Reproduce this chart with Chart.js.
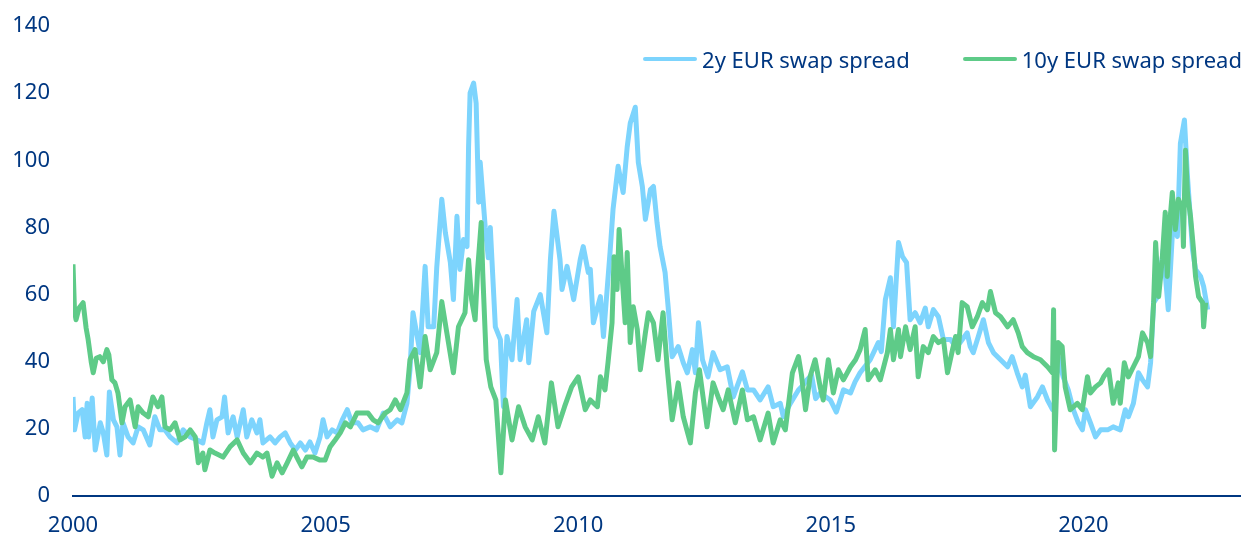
<!DOCTYPE html>
<html>
<head>
<meta charset="utf-8">
<script src="https://cdn.jsdelivr.net/npm/chart.js@4/dist/chart.umd.min.js"></script>
<style>
  body { margin: 0; background: #fff; }
  #wrap { position: relative; width: 1244px; height: 537px; }
  #legend { position: absolute; right: 2px; top: 44px; display: flex; font-family: "Noto Sans", sans-serif; font-size: 22px; color: #003781; }
  .item { display: flex; align-items: center; margin-left: 53px; }
  .swatch { width: 54px; height: 4px; border-radius: 2px; margin-right: 5px; }
</style>
</head>
<body>
<div id="wrap">
  <canvas id="chart" width="1244" height="537"></canvas>
  <div id="legend"></div>
</div>
<script>
// series labels and colours
var seriesNames = ['2y EUR swap spread', '10y EUR swap spread'];
var seriesColors = ['#7dd4fd', '#5ecb88'];
var yearTicks = [2000, 2005, 2010, 2015, 2020];

// 2y spread (bp), dates as decimal years
var years2y = [2000.00,2000.03,2000.10,2000.18,2000.24,2000.28,2000.31,2000.38,2000.44,2000.54,2000.60,2000.67,2000.72,2000.80,2000.87,2000.93,2000.99,
  2001.09,2001.19,2001.29,2001.39,2001.52,2001.62,2001.72,2001.82,2001.92,2002.06,2002.18,2002.32,2002.46,2002.57,2002.65,2002.71,2002.77,2002.85,2002.95,
  2003.00,2003.07,2003.17,2003.25,2003.37,2003.44,2003.54,2003.64,2003.70,2003.76,2003.90,2004.00,2004.10,2004.20,2004.30,2004.40,2004.50,2004.60,2004.69,
  2004.79,2004.89,2004.95,2005.03,2005.13,2005.23,2005.33,2005.43,2005.52,2005.64,2005.74,2005.88,2006.01,2006.14,2006.28,2006.42,2006.51,2006.61,2006.67,
  2006.73,2006.87,2006.97,2007.03,2007.14,2007.20,2007.30,2007.37,2007.47,2007.53,2007.60,2007.66,2007.73,2007.80,2007.83,2007.86,2007.93,2007.98,2008.03,
  2008.06,2008.16,2008.22,2008.26,2008.36,2008.46,2008.52,2008.59,2008.69,2008.79,2008.85,2008.98,2009.02,2009.12,2009.25,2009.38,2009.45,2009.52,2009.64,
  2009.68,2009.78,2009.91,2010.04,2010.10,2010.20,2010.24,2010.30,2010.44,2010.50,2010.63,2010.69,2010.79,2010.89,2010.97,2011.03,2011.13,2011.19,2011.27,
  2011.33,2011.43,2011.49,2011.56,2011.62,2011.72,2011.78,2011.86,2011.98,2012.08,2012.16,2012.26,2012.32,2012.38,2012.46,2012.57,2012.67,2012.81,2012.95,
  2013.07,2013.25,2013.35,2013.47,2013.60,2013.76,2013.86,2014.00,2014.06,2014.20,2014.36,2014.45,2014.53,2014.62,2014.70,2014.79,2014.99,2015.11,2015.25,
  2015.39,2015.48,2015.58,2015.78,2015.94,2016.00,2016.08,2016.18,2016.24,2016.34,2016.42,2016.50,2016.57,2016.67,2016.77,2016.87,2016.93,2017.03,2017.13,
  2017.23,2017.37,2017.47,2017.56,2017.70,2017.76,2017.82,2017.92,2018.02,2018.12,2018.22,2018.36,2018.50,2018.59,2018.69,2018.79,2018.85,2018.95,2019.09,
  2019.19,2019.29,2019.39,2019.43,2019.50,2019.60,2019.70,2019.80,2019.90,2019.98,2020.04,2020.14,2020.24,2020.34,2020.48,2020.59,2020.73,2020.83,2020.89,
  2020.99,2021.09,2021.17,2021.27,2021.33,2021.39,2021.47,2021.58,2021.68,2021.78,2021.86,2021.92,2022.00,2022.06,2022.16,2022.22,2022.32,2022.38,2022.46];
var spread2y = [29.5,19.7,24.7,25.7,17.6,27.6,17.6,29.2,13.7,21.8,18.8,12.2,31,22.7,20.6,12.2,21.8,
  17.6,15.8,20.6,19.7,15.2,23.6,19.7,19.7,17.6,15.8,19.7,17.6,16.7,15.8,21.8,25.7,17.6,22.7,23.6,
  29.5,18.8,23.6,17.6,25.7,17.6,22.7,18.8,22.7,15.8,17.6,15.8,17.6,18.8,15.8,13.7,15.8,13.7,16.1,
  12.8,17.6,22.7,17.6,19.7,18.8,22.7,25.7,21.8,21.8,19.7,20.6,19.7,24.7,20.6,22.7,21.8,27.6,37.6,
  54.6,42.7,68.4,50.4,50.4,68,88.4,78.5,69.5,58.5,83.3,67.5,76.4,74.3,104,120,123,117,87.5,
  99.4,80,71,80,50.4,46.6,26.6,47.5,40.6,58.5,40.6,52.5,39.7,55,60,48.6,70.4,84.8,70.4,
  61.5,68.4,58.5,70.4,74.3,66.6,67.5,51.6,59.4,47.5,72.5,85.4,98.2,90.4,104,111,115.8,99.4,92.2,
  82.4,91.3,92.2,81.5,74.3,66.6,56.4,41.5,44.5,39.7,36.7,43.6,36.7,51.6,40.6,35.5,42.7,37.6,38.5,
  29.5,37,31.6,31.6,28.6,32.5,26.6,27.6,23.6,27.6,31.6,33,34.6,36,29,30.7,28.6,25,31.6,
  30.7,34,36.7,40.6,45.7,43,58.5,65,50.4,75.5,71.3,69.5,52.5,54.6,51.6,56,50.4,55.5,53.4,
  46.6,46.6,44.5,45.7,48.6,44.5,42.7,47.5,52.5,45.7,42.7,40.6,38.5,41.5,36.7,32.5,36,26.6,29.5,
  32.5,28.6,25.7,27.6,41.5,35.5,31.6,25.7,21.8,19.7,25.7,21.8,17.6,19.7,19.7,20.6,19.7,25.7,23.6,
  27.6,36.7,34.6,32.5,39.7,57.6,59.4,73.4,55.5,83.3,77.3,105,112,95.2,73.4,67.5,65.4,62.4,55.5];

// 10y spread (bp), dates as decimal years
var years10y = [2000.00,2000.03,2000.06,2000.12,2000.20,2000.26,2000.30,2000.36,2000.40,2000.46,2000.53,2000.60,2000.67,2000.71,2000.77,2000.83,2000.89,2000.97,
  2001.03,2001.13,2001.23,2001.29,2001.39,2001.49,2001.58,2001.68,2001.76,2001.82,2001.92,2002.02,2002.12,2002.22,2002.32,2002.42,2002.48,2002.57,2002.61,
  2002.71,2002.81,2002.97,2003.11,2003.25,2003.37,2003.51,2003.64,2003.76,2003.84,2003.94,2004.04,2004.14,2004.24,2004.36,2004.46,2004.53,2004.63,2004.75,
  2004.89,2004.99,2005.09,2005.19,2005.29,2005.39,2005.49,2005.62,2005.74,2005.84,2005.94,2006.04,2006.18,2006.28,2006.38,2006.48,2006.61,2006.67,2006.77,
  2006.87,2006.97,2007.07,2007.20,2007.30,2007.40,2007.53,2007.63,2007.76,2007.83,2007.89,2007.96,2008.01,2008.08,2008.11,2008.18,2008.27,2008.37,2008.47,
  2008.56,2008.69,2008.82,2008.95,2009.09,2009.21,2009.34,2009.47,2009.60,2009.73,2009.87,2010.00,2010.14,2010.24,2010.38,2010.44,2010.53,2010.59,2010.67,
  2010.71,2010.77,2010.81,2010.87,2010.93,2010.97,2011.03,2011.09,2011.17,2011.23,2011.33,2011.39,2011.49,2011.58,2011.68,2011.76,2011.86,2011.98,2012.08,
  2012.22,2012.32,2012.40,2012.55,2012.67,2012.77,2012.87,2012.97,2013.11,2013.25,2013.35,2013.47,2013.60,2013.76,2013.86,2014.00,2014.10,2014.24,2014.36,
  2014.42,2014.50,2014.59,2014.69,2014.79,2014.85,2014.95,2015.05,2015.15,2015.25,2015.39,2015.49,2015.58,2015.68,2015.74,2015.88,2015.98,2016.12,2016.18,
  2016.24,2016.34,2016.38,2016.48,2016.57,2016.67,2016.73,2016.83,2016.93,2017.03,2017.13,2017.23,2017.31,2017.41,2017.47,2017.52,2017.60,2017.70,2017.80,
  2017.90,2018.00,2018.10,2018.16,2018.26,2018.36,2018.50,2018.61,2018.71,2018.79,2018.89,2019.01,2019.15,2019.29,2019.39,2019.41,2019.43,2019.50,2019.58,
  2019.64,2019.74,2019.88,2019.98,2020.08,2020.14,2020.24,2020.34,2020.40,2020.50,2020.59,2020.69,2020.73,2020.81,2020.89,2020.99,2021.09,2021.17,2021.27,
  2021.33,2021.39,2021.43,2021.49,2021.56,2021.62,2021.66,2021.72,2021.76,2021.82,2021.88,2021.96,2021.98,2022.02,2022.06,2022.12,2022.18,2022.22,2022.28,
  2022.36,2022.38,2022.42];
var spread10y = [69,55,52.5,56,57.6,50,46.6,40,36.7,41,41.5,40,43.6,42,34.6,33.7,30.7,21.8,
  26.6,28.6,20.6,26.6,24.7,23.6,29.5,26.6,29.5,20.6,19.7,21.8,16.7,17.6,19.7,17.6,9.9,12.8,7.8,
  13.7,12.8,11.6,14.7,16.7,12.8,9.9,12.8,11.6,12.8,5.9,9.9,6.9,9.9,13.7,10.7,8.7,11.6,11.6,
  10.7,10.7,14.7,16.7,18.8,21.8,20.6,24.7,24.7,24.7,22.7,21.8,24.7,25.7,28.6,25.7,30.7,40.6,43.6,
  32.5,47.5,37.6,42.7,57.9,48.6,36.7,50.4,54.6,70.4,58.5,52.5,67.5,81.5,66.6,40.6,32.5,28.6,6.9,
  28.6,16.7,26.6,20.6,16.7,23.6,15.8,33.7,20.6,26.6,32.5,35.5,25.7,28.6,26.6,35.5,31.6,39.7,51.6,
  71.3,61.5,79.4,65.4,51.6,72.5,45.7,56.4,49.6,37.6,48.6,54.6,51.6,40.6,54.6,38.5,22.7,33.7,23.6,
  15.8,30.7,37.6,20.6,33.7,29.5,25.7,31.6,21.8,31.6,22.7,23.6,16.7,24.7,15.8,22.7,19.7,36.7,41.5,
  36,25.7,35.5,40.6,32.5,28.6,40.6,30.7,37.6,34.6,38.5,40.6,43.6,49.6,34.6,37.6,34.6,42.7,49.6,
  40.6,49.6,41.5,50.4,43.6,50.4,35.5,44.5,42.7,47.5,45.7,46.6,36.7,43.6,47.5,42.7,57.6,56.4,50.4,
  53.4,57.6,55.5,60.9,54.6,53.4,50.4,52.5,48.6,44.5,42.7,41.5,40.6,38.5,36.7,55.5,13.7,45.7,44.5,
  32.5,25.7,27.6,25.7,35.5,30.7,32.5,33.7,35.5,37.6,27.6,33.7,27.6,39.7,35.5,38.5,41.5,48.6,45.7,
  41.5,57.6,75.5,59.4,70.4,84.5,65.4,83.3,90.4,79.4,88.4,85.4,74.3,103,90.4,83.3,73.4,65.4,59.4,
  57.6,50.4,57.6];

function toPoints(xs, ys) {
  return xs.map(function (x, i) { return { x: x, y: ys[i] }; });
}

var navy = '#003781';
var tickFont = { family: 'Noto Sans', size: 22, lineHeight: 1 };

var ctx = document.getElementById('chart').getContext('2d');
var chart = new Chart(ctx, {
  type: 'line',
  data: {
    datasets: [{
      label: seriesNames[0],
      data: toPoints(years2y, spread2y),
      borderColor: seriesColors[0],
      borderWidth: 5,
      borderJoinStyle: 'round',
      pointRadius: 0,
      tension: 0,
      order: 2
    }, {
      label: seriesNames[1],
      data: toPoints(years10y, spread10y),
      borderColor: seriesColors[1],
      borderWidth: 5,
      borderJoinStyle: 'round',
      pointRadius: 0,
      tension: 0,
      order: 1
    }]
  },
  options: {
    responsive: false,
    animation: false,
    layout: { padding: { top: 26, left: 12, right: 4, bottom: 0 } },
    plugins: { legend: { display: false }, tooltip: { enabled: false } },
    scales: {
      x: {
        type: 'linear',
        min: 2000,
        max: 2023.1,
        afterBuildTicks: function (scale) {
          scale.ticks = yearTicks.map(function (v) { return { value: v }; });
        },
        afterFit: function (scale) { scale.height = 41; },
        grid: { display: false, drawTicks: false },
        border: { display: true, color: navy, width: 2 },
        ticks: { color: navy, font: tickFont, padding: 19, maxRotation: 0,
          callback: function (v) { return String(v); } }
      },
      y: {
        min: 0,
        max: 140,
        afterFit: function (scale) {
          scale.width = 61;
          scale.paddingTop = 0;
          scale.paddingBottom = 0;
        },
        grid: { display: false, drawTicks: false },
        border: { display: false },
        ticks: { stepSize: 20, color: navy, font: tickFont, padding: 23 }
      }
    }
  }
});

// legend as html text
var legend = document.getElementById('legend');
seriesNames.forEach(function (name, i) {
  var item = document.createElement('div');
  item.className = 'item';
  var sw = document.createElement('span');
  sw.className = 'swatch';
  sw.style.background = seriesColors[i];
  var label = document.createElement('span');
  label.textContent = name;
  item.appendChild(sw);
  item.appendChild(label);
  legend.appendChild(item);
});
</script>
</body>
</html>
